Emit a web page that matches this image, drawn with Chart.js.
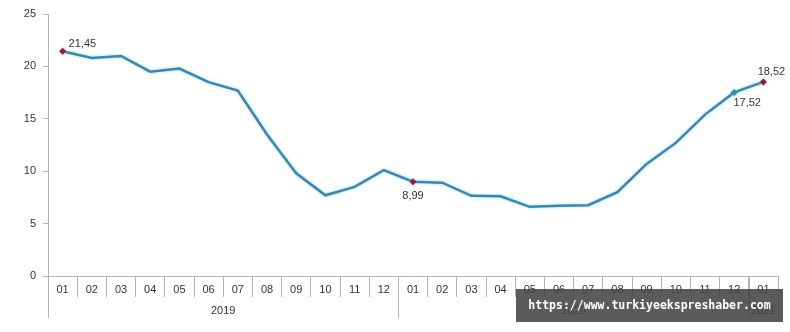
<!DOCTYPE html>
<html>
<head>
<meta charset="utf-8">
<script src="https://cdn.jsdelivr.net/npm/chart.js@4"></script>
<style>
  html, body { margin: 0; padding: 0; background: #fff; }
  #wrap { position: relative; width: 790px; height: 332px; }
  #mark {
    position: absolute; left: 516px; top: 289px; width: 267px; height: 33px;
    background: rgba(68,68,68,0.88); color: #fff;
    font: bold 11.5px "DejaVu Sans Mono", monospace; line-height: 33px; text-align: center;
  }
</style>
</head>
<body>
<div id="wrap">
  <canvas id="chart" width="790" height="332"></canvas>
  <div id="mark">https://www.turkiyeekspreshaber.com</div>
</div>
<script>
  const months = ['01','02','03','04','05','06','07','08','09','10','11','12',
                  '01','02','03','04','05','06','07','08','09','10','11','12','01'];
  const years = [
    { label: '2019', from: 0, to: 11 },
    { label: '2020', from: 12, to: 23 },
    { label: '2021', from: 24, to: 24 },
  ];
  const values = [21.45, 20.8, 21.0, 19.5, 19.8, 18.5, 17.7, 13.5, 9.8, 7.7, 8.5, 10.1,
                  8.99, 8.9, 7.65, 7.6, 6.6, 6.7, 6.75, 8.0, 10.7, 12.7, 15.4, 17.52, 18.52];
  const yTicks = [0, 5, 10, 15, 20, 25];
  const marked = [0, 12, 23, 24];

  const lineColor = '#3a88b2';
  const red = '#a3172b';
  const axisColor = '#b5b5b5';
  const textColor = '#333';
  const fontFamily = '"Liberation Sans", Arial, sans-serif';

  // labels next to marked points: [dx, dy, align]
  const labelPos = { 0: [6, -7, 'left'], 12: [0, 14, 'center'], 23: [13, 11, 'center'], 24: [8, -10, 'center'] };

  const glowPlugin = {
    id: 'glow',
    beforeDatasetsDraw(chart) {
      const ctx = chart.ctx;
      ctx.save();
      ctx.shadowColor = 'rgba(130,205,235,0.8)';
      ctx.shadowBlur = 3;
    },
    afterDatasetsDraw(chart) { chart.ctx.restore(); }
  };

  const axisPlugin = {
    id: 'groupAxis',
    afterDraw(chart) {
      const ctx = chart.ctx;
      const x = chart.scales.x;
      const area = chart.chartArea;
      const half = (x.getPixelForValue(1) - x.getPixelForValue(0)) / 2;
      const top = area.bottom;
      ctx.save();
      ctx.strokeStyle = axisColor;
      ctx.lineWidth = 1;
      ctx.beginPath();
      years.forEach(g => {
        const l = Math.round(x.getPixelForValue(g.from) - half) + 0.5;
        ctx.moveTo(l, top); ctx.lineTo(l, top + 42);
      });
      const r = Math.round(x.getPixelForValue(months.length - 1) + half) + 0.5;
      ctx.moveTo(r, top); ctx.lineTo(r, top + 21);
      ctx.stroke();
      ctx.fillStyle = textColor;
      ctx.font = '11px ' + fontFamily;
      ctx.textAlign = 'center';
      ctx.textBaseline = 'middle';
      years.forEach(g => {
        const c = (x.getPixelForValue(g.from) + x.getPixelForValue(g.to)) / 2;
        ctx.fillText(g.label, c, top + 35);
      });

      // value labels
      const meta = chart.getDatasetMeta(0);
      marked.forEach(i => {
        const p = meta.data[i];
        const pos = labelPos[i];
        ctx.textAlign = pos[2];
        ctx.fillText(values[i].toFixed(2).replace('.', ','), p.x + pos[0], p.y + pos[1]);
      });
      ctx.restore();
    }
  };

  new Chart(document.getElementById('chart'), {
    type: 'line',
    data: {
      labels: months,
      datasets: [{
        data: values,
        borderColor: lineColor,
        borderWidth: 2.5,
        tension: 0,
        pointStyle: 'rectRot',
        pointRadius: values.map((_, i) => marked.includes(i) ? 3.5 : 0),
        pointBackgroundColor: values.map((_, i) => i === 23 ? lineColor : red),
        pointBorderWidth: 0,
      }],
    },
    options: {
      responsive: false,
      animation: false,
      events: [],
      layout: { padding: { top: 14, right: 12, left: 0, bottom: 0 } },
      plugins: { legend: { display: false }, tooltip: { enabled: false } },
      scales: {
        x: {
          offset: true,
          grid: { offset: true, drawOnChartArea: false, color: axisColor, tickLength: 21 },
          border: { color: axisColor },
          ticks: { color: textColor, font: { family: fontFamily, size: 11 }, padding: -14, maxRotation: 0, autoSkip: false },
          afterFit(s) { s.height = 56; },
        },
        y: {
          min: 0, max: 25,
          afterBuildTicks(s) { s.ticks = yTicks.map(v => ({ value: v })); },
          grid: { drawOnChartArea: false, color: axisColor, tickLength: 5 },
          border: { color: axisColor },
          ticks: { color: textColor, font: { family: fontFamily, size: 11 }, padding: 7 },
          afterFit(s) { s.width = 48; },
        },
      },
    },
    plugins: [glowPlugin, axisPlugin],
  });
</script>
</body>
</html>
